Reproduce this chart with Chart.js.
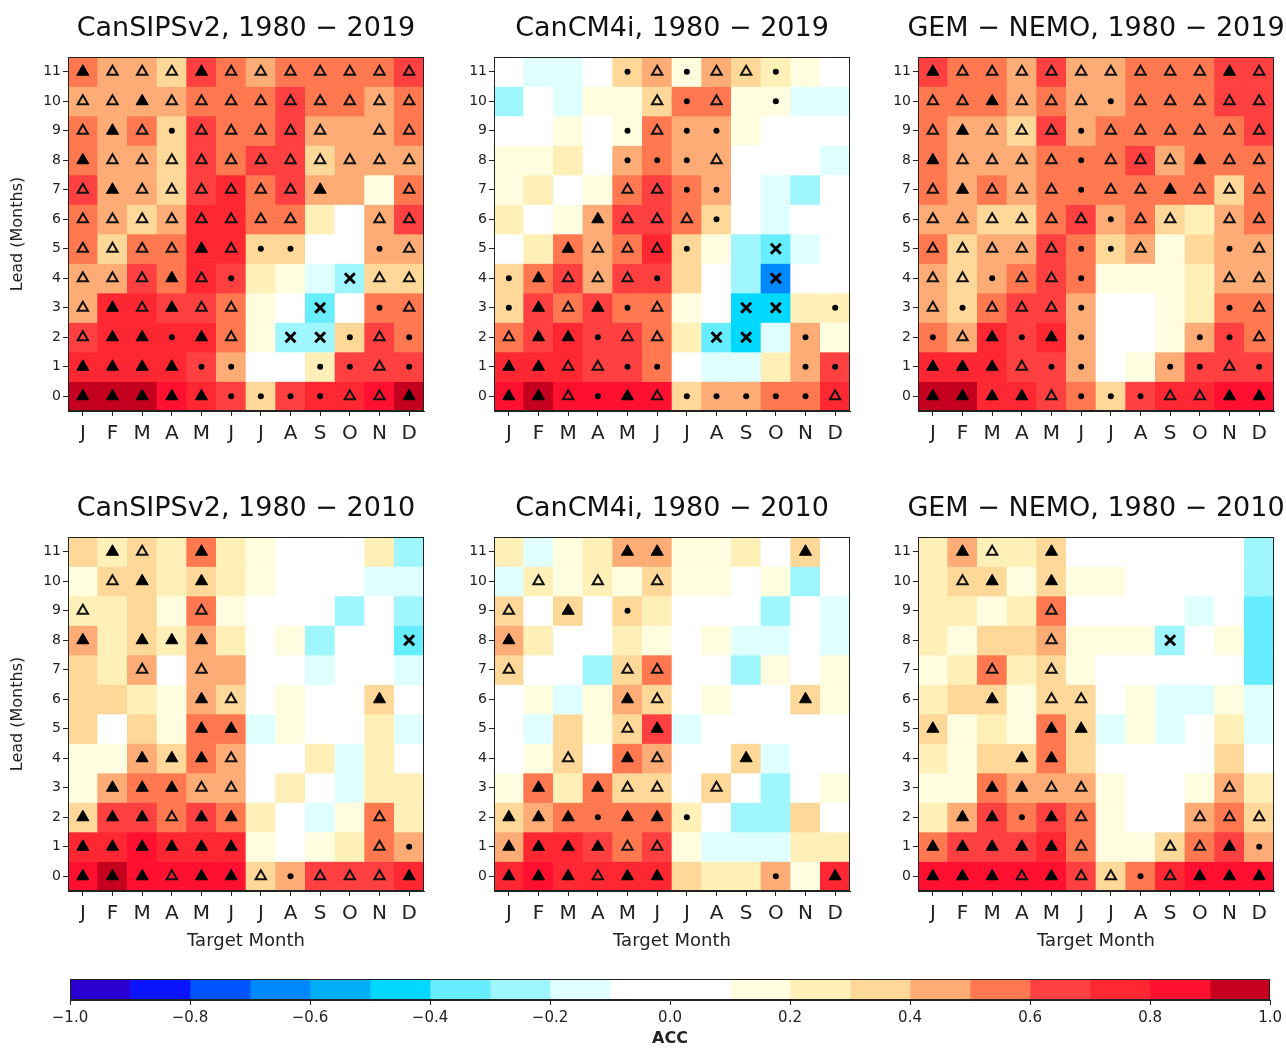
<!DOCTYPE html>
<html>
<head>
<meta charset="utf-8">
<title>ACC by lead and target month</title>
<script src="https://cdn.jsdelivr.net/npm/chart.js@4.4.0/dist/chart.umd.min.js"></script>
<style>
	body { margin: 0; background: #fff; }
	#wrap { position: relative; width: 1286px; height: 1048px; overflow: hidden; }
	#wrap canvas { position: absolute; }
</style>
</head>
<body>
<div id="wrap"></div>
<script>
var MONTHS = ['J', 'F', 'M', 'A', 'M', 'J', 'J', 'A', 'S', 'O', 'N', 'D'];
var MONTH_KEYS = ['Jan', 'Feb', 'Mar', 'Apr', 'May', 'Jun', 'Jul', 'Aug', 'Sep', 'Oct', 'Nov', 'Dec'];
// rows are listed top to bottom: lead 11 ... lead 0
var LEADS = [11, 10, 9, 8, 7, 6, 5, 4, 3, 2, 1, 0];

// colour bins of 0.1 from -1.0 to 1.0
var BIN_EDGES = [-1.0, -0.9, -0.8, -0.7, -0.6, -0.5, -0.4, -0.3, -0.2, -0.1, 0.0, 0.1, 0.2, 0.3, 0.4, 0.5, 0.6, 0.7, 0.8, 0.9, 1.0];
var BIN_COLORS = ['#2a00d2', '#0a14ff', '#0055ff', '#0088ff', '#00aef5', '#00d8ff', '#66eeff', '#a0f6ff', '#e0ffff', '#ffffff',
	'#ffffff', '#fffde0', '#fff0b8', '#fed898', '#fcac74', '#ff7850', '#ff4040', '#ff2832', '#ff1030', '#c4001e'];

var TITLES = ['CanSIPSv2, 1980 \u2212 2019', 'CanCM4i, 1980 \u2212 2019', 'GEM \u2212 NEMO, 1980 \u2212 2019',
	'CanSIPSv2, 1980 \u2212 2010', 'CanCM4i, 1980 \u2212 2010', 'GEM \u2212 NEMO, 1980 \u2212 2010'];

// significance marks: F filled triangle, O open triangle, D dot, X cross, - none
var ACC_SIPS_19 = [
	[0.55, 0.45, 0.45, 0.35, 0.65, 0.55, 0.45, 0.55, 0.55, 0.55, 0.55, 0.65],
	[0.45, 0.45, 0.45, 0.45, 0.55, 0.55, 0.55, 0.65, 0.55, 0.55, 0.45, 0.55],
	[0.55, 0.45, 0.55, 0.35, 0.65, 0.55, 0.55, 0.65, 0.45, 0.45, 0.45, 0.55],
	[0.55, 0.45, 0.45, 0.35, 0.65, 0.55, 0.65, 0.65, 0.35, 0.45, 0.45, 0.45],
	[0.65, 0.45, 0.45, 0.35, 0.65, 0.75, 0.55, 0.65, 0.45, 0.45, 0.15, 0.55],
	[0.55, 0.45, 0.35, 0.45, 0.75, 0.75, 0.55, 0.55, 0.25, 0.05, 0.45, 0.65],
	[0.55, 0.35, 0.55, 0.55, 0.75, 0.75, 0.35, 0.35, 0.05, 0.05, 0.45, 0.45],
	[0.45, 0.45, 0.65, 0.55, 0.75, 0.65, 0.25, 0.15, -0.15, -0.25, 0.35, 0.35],
	[0.45, 0.75, 0.75, 0.65, 0.65, 0.55, 0.15, 0.05, -0.35, 0.05, 0.55, 0.55],
	[0.65, 0.75, 0.75, 0.75, 0.75, 0.55, 0.15, -0.25, -0.25, 0.35, 0.65, 0.55],
	[0.75, 0.75, 0.75, 0.75, 0.65, 0.45, 0.05, 0.05, 0.25, 0.65, 0.65, 0.65],
	[0.95, 0.95, 0.95, 0.85, 0.75, 0.65, 0.35, 0.65, 0.75, 0.75, 0.85, 0.95]
];
var MARK_SIPS_19 = ['FOOOFOOOOOOO', 'OOFOOOOOOOOO', 'OFODOOOOO-OO', 'FOOOOOOOOOOO', 'OFOOOOOOF--O', 'OOOOOOOO--OO',
	'OOOOFODD--DO', 'OOOFOD---XOO', 'OFOFOO--X-DO', 'OFFDFO-XXDOD', 'FFFFDD--DDOD', 'FFFFFDDDDOOF'];

var ACC_CM4_19 = [
	[0.05, -0.15, -0.15, 0.05, 0.35, 0.45, 0.15, 0.45, 0.35, 0.25, 0.15, 0.05],
	[-0.25, 0.05, -0.15, 0.15, 0.15, 0.35, 0.55, 0.55, 0.15, 0.15, -0.15, -0.15],
	[0.05, 0.05, 0.15, 0.05, 0.15, 0.55, 0.45, 0.45, 0.15, 0.05, 0.05, 0.05],
	[0.15, 0.15, 0.25, 0.05, 0.45, 0.55, 0.45, 0.45, 0.05, 0.05, 0.05, -0.15],
	[0.15, 0.25, 0.05, 0.15, 0.55, 0.65, 0.55, 0.45, 0.05, -0.15, -0.25, 0.05],
	[0.25, 0.05, 0.15, 0.45, 0.65, 0.65, 0.55, 0.35, 0.05, -0.15, 0.05, 0.05],
	[0.05, 0.25, 0.55, 0.45, 0.55, 0.75, 0.35, 0.15, -0.25, -0.35, -0.15, 0.05],
	[0.35, 0.55, 0.65, 0.45, 0.65, 0.65, 0.35, 0.05, -0.25, -0.65, 0.05, 0.05],
	[0.35, 0.65, 0.55, 0.65, 0.55, 0.55, 0.15, 0.05, -0.45, -0.45, 0.25, 0.25],
	[0.55, 0.65, 0.75, 0.65, 0.65, 0.55, 0.25, -0.35, -0.45, -0.15, 0.45, 0.15],
	[0.75, 0.75, 0.75, 0.65, 0.65, 0.55, 0.05, -0.15, -0.15, 0.25, 0.45, 0.65],
	[0.85, 0.95, 0.85, 0.85, 0.85, 0.85, 0.35, 0.45, 0.45, 0.55, 0.55, 0.75]
];
var MARK_CM4_19 = ['----DODOOD--', '-----ODO-D--', '----DODD----', '----DDDO----', '----OODD----', '---FOOOD----',
	'--FOOOD--X--', 'DFOOOD---X--', 'DFOFDO--XX-D', 'OFFDOO-XX-D-', 'FFOODD----DD', 'FFODFODDDDDO'];

var ACC_GEM_19 = [
	[0.65, 0.55, 0.55, 0.45, 0.65, 0.45, 0.45, 0.55, 0.55, 0.55, 0.65, 0.65],
	[0.55, 0.55, 0.55, 0.45, 0.55, 0.45, 0.45, 0.55, 0.55, 0.55, 0.65, 0.65],
	[0.55, 0.45, 0.45, 0.35, 0.65, 0.45, 0.55, 0.55, 0.55, 0.55, 0.55, 0.65],
	[0.55, 0.45, 0.45, 0.45, 0.55, 0.55, 0.55, 0.65, 0.45, 0.55, 0.55, 0.55],
	[0.55, 0.45, 0.55, 0.45, 0.55, 0.55, 0.55, 0.55, 0.55, 0.55, 0.35, 0.55],
	[0.45, 0.45, 0.35, 0.35, 0.55, 0.65, 0.45, 0.55, 0.35, 0.25, 0.45, 0.55],
	[0.55, 0.35, 0.45, 0.45, 0.65, 0.55, 0.35, 0.45, 0.15, 0.35, 0.45, 0.45],
	[0.45, 0.35, 0.45, 0.55, 0.65, 0.55, 0.15, 0.15, 0.15, 0.25, 0.45, 0.45],
	[0.45, 0.35, 0.55, 0.65, 0.65, 0.45, 0.05, 0.05, 0.15, 0.25, 0.55, 0.55],
	[0.55, 0.45, 0.75, 0.65, 0.75, 0.45, 0.05, 0.05, 0.15, 0.45, 0.65, 0.55],
	[0.75, 0.75, 0.75, 0.65, 0.65, 0.45, 0.05, 0.15, 0.45, 0.65, 0.65, 0.65],
	[0.95, 0.95, 0.75, 0.75, 0.65, 0.55, 0.35, 0.65, 0.75, 0.75, 0.85, 0.85]
];
var MARK_GEM_19 = ['FOOOOOOOOOFO', 'OOFOOODOOOOO', 'OFOOODOOOOOO', 'FOOOODOOOFOO', 'OFOOODOOFOOO', 'OOOOOODOO-OO',
	'OOOOODDO--DO', 'OODOOD----OO', 'ODOOOD----DO', 'DOFDFD---DDO', 'FFFODD--DDOD', 'FFFFODDDOOFF'];

var ACC_SIPS_10 = [
	[0.35, 0.25, 0.35, 0.25, 0.55, 0.25, 0.15, 0.05, 0.05, 0.05, 0.25, -0.25],
	[0.15, 0.35, 0.35, 0.25, 0.35, 0.25, 0.15, 0.05, 0.05, 0.05, -0.15, -0.15],
	[0.25, 0.25, 0.35, 0.15, 0.55, 0.15, 0.05, 0.05, 0.05, -0.25, 0.05, -0.25],
	[0.45, 0.25, 0.35, 0.25, 0.45, 0.25, 0.05, 0.15, -0.25, 0.05, 0.05, -0.35],
	[0.35, 0.25, 0.45, 0.05, 0.45, 0.45, 0.05, 0.05, -0.15, 0.05, 0.05, -0.15],
	[0.35, 0.35, 0.25, 0.15, 0.45, 0.35, 0.05, 0.15, 0.05, 0.05, 0.35, 0.05],
	[0.35, 0.05, 0.35, 0.15, 0.55, 0.55, -0.15, 0.15, 0.05, 0.05, 0.25, -0.15],
	[0.15, 0.15, 0.45, 0.35, 0.55, 0.45, 0.05, 0.05, 0.25, -0.15, 0.25, 0.05],
	[0.15, 0.45, 0.55, 0.55, 0.45, 0.45, 0.05, 0.25, 0.05, -0.15, 0.25, 0.25],
	[0.35, 0.65, 0.65, 0.55, 0.65, 0.55, 0.25, 0.05, -0.15, 0.15, 0.55, 0.25],
	[0.75, 0.75, 0.85, 0.75, 0.75, 0.75, 0.15, 0.05, 0.15, 0.25, 0.55, 0.45],
	[0.85, 0.95, 0.85, 0.85, 0.85, 0.85, 0.35, 0.45, 0.65, 0.65, 0.65, 0.75]
];
var MARK_SIPS_10 = ['-FO-F-------', '-OF-F-------', 'O---O-------', 'F-FFF------X', '--O-O-------', '----FO----F-',
	'----FF------', '--FFFO------', '-FFFOO------', 'FFFOFF----O-', 'FFFFFF----OD', 'FFFOFFODOOOF'];

var ACC_CM4_10 = [
	[0.25, -0.15, 0.15, 0.25, 0.45, 0.45, 0.15, 0.15, 0.25, 0.05, 0.35, 0.05],
	[-0.15, 0.25, 0.15, 0.25, 0.15, 0.35, 0.15, 0.15, 0.05, 0.15, -0.25, 0.05],
	[0.35, 0.05, 0.35, 0.05, 0.35, 0.25, 0.05, 0.05, 0.05, -0.25, 0.05, -0.15],
	[0.45, 0.25, 0.05, 0.05, 0.25, 0.15, 0.05, 0.15, -0.15, -0.15, 0.05, -0.15],
	[0.35, 0.05, 0.05, -0.25, 0.35, 0.55, 0.05, 0.05, -0.25, 0.15, 0.05, 0.15],
	[0.05, 0.15, -0.15, 0.15, 0.45, 0.35, 0.05, 0.15, 0.05, 0.05, 0.35, 0.15],
	[0.05, -0.15, 0.35, 0.15, 0.35, 0.65, -0.15, 0.05, 0.05, 0.05, 0.05, 0.05],
	[0.05, 0.15, 0.35, 0.05, 0.55, 0.45, 0.05, 0.05, 0.35, -0.15, 0.05, 0.05],
	[0.15, 0.55, 0.25, 0.55, 0.35, 0.35, 0.05, 0.35, 0.05, -0.25, 0.05, 0.15],
	[0.35, 0.45, 0.55, 0.55, 0.55, 0.55, 0.25, 0.05, -0.25, -0.25, 0.35, 0.05],
	[0.45, 0.75, 0.75, 0.65, 0.55, 0.65, 0.15, -0.15, -0.15, -0.15, 0.25, 0.25],
	[0.75, 0.85, 0.75, 0.75, 0.75, 0.75, 0.35, 0.25, 0.25, 0.45, 0.15, 0.75]
];
var MARK_CM4_10 = ['----FF----F-', '-O-O-O------', 'O-F-D-------', 'F-----------', 'O---OO------', '----FO----F-',
	'----OF------', '--O-FO--F---', '-F-FOO-O----', 'FFFDFFD-----', 'FFFFOO------', 'FFFOFF---D-F'];

var ACC_GEM_10 = [
	[0.25, 0.45, 0.25, 0.25, 0.35, 0.05, 0.05, 0.05, 0.05, 0.05, 0.05, -0.25],
	[0.25, 0.35, 0.35, 0.15, 0.35, 0.15, 0.15, 0.05, 0.05, 0.05, 0.05, -0.25],
	[0.25, 0.25, 0.15, 0.25, 0.55, 0.05, 0.05, 0.05, 0.05, -0.15, 0.05, -0.35],
	[0.25, 0.15, 0.35, 0.35, 0.45, 0.15, 0.15, 0.15, -0.25, 0.05, 0.15, -0.35],
	[0.15, 0.25, 0.55, 0.25, 0.35, 0.15, 0.05, 0.05, 0.05, 0.05, 0.05, -0.35],
	[0.25, 0.35, 0.35, 0.15, 0.35, 0.35, 0.05, 0.15, -0.15, -0.15, 0.15, -0.15],
	[0.35, 0.15, 0.25, 0.15, 0.55, 0.35, -0.15, 0.15, -0.15, 0.05, 0.25, -0.15],
	[0.25, 0.15, 0.35, 0.35, 0.55, 0.35, 0.05, 0.05, 0.05, 0.05, 0.35, 0.05],
	[0.15, 0.15, 0.55, 0.45, 0.45, 0.45, 0.15, 0.05, 0.05, 0.15, 0.45, 0.25],
	[0.25, 0.45, 0.65, 0.55, 0.65, 0.55, 0.15, 0.05, 0.05, 0.45, 0.55, 0.35],
	[0.55, 0.65, 0.65, 0.65, 0.75, 0.55, 0.15, 0.15, 0.35, 0.55, 0.65, 0.45],
	[0.85, 0.85, 0.85, 0.85, 0.85, 0.65, 0.35, 0.55, 0.75, 0.85, 0.85, 0.85]
];
var MARK_GEM_10 = ['-FO-F-------', '-OF-F-------', '----O-------', '----O---X---', '--O-O-------', '--F-OO------',
	'F---FF------', '---FF-------', '--FFOO----O-', '-FFDFO---OOO', 'FFFFFO--OOFD', 'FFFOFOODOFFF'];

var PANEL_ACC = [ACC_SIPS_19, ACC_CM4_19, ACC_GEM_19, ACC_SIPS_10, ACC_CM4_10, ACC_GEM_10];
var PANEL_MARK = [MARK_SIPS_19, MARK_CM4_19, MARK_GEM_19, MARK_SIPS_10, MARK_CM4_10, MARK_GEM_10];

Chart.defaults.font.family = 'DejaVu Sans';
Chart.defaults.color = '#222';

function binColor(v) {
	var i = Math.floor((v + 1) / 0.1);
	if (i < 0) i = 0;
	if (i > 19) i = 19;
	return BIN_COLORS[i];
}

var framePlugin = {
	id: 'frame',
	afterDraw: function (chart, args, opts) {
		var ctx = chart.ctx;
		var a = chart.chartArea;
		ctx.save();
		ctx.strokeStyle = '#222';
		ctx.lineWidth = 1;
		ctx.strokeRect(a.left + 0.5, a.top + 0.5, a.right - a.left - 1, a.bottom - a.top - 1);
		if (opts.title) {
			ctx.fillStyle = '#111';
			ctx.font = '27px "DejaVu Sans"';
			ctx.textAlign = 'center';
			ctx.textBaseline = 'middle';
			ctx.fillText(opts.title, (a.left + a.right) / 2, a.top - 28);
		}
		ctx.restore();
	}
};

function addCanvas(left, top, w, h) {
	var c = document.createElement('canvas');
	c.width = w;
	c.height = h;
	c.style.left = left + 'px';
	c.style.top = top + 'px';
	c.style.width = w + 'px';
	c.style.height = h + 'px';
	document.getElementById('wrap').appendChild(c);
	return c;
}

function makePanel(k) {
	var col = k % 3, row = Math.floor(k / 3);
	var acc = PANEL_ACC[k], marks = PANEL_MARK[k];
	var canvasLeft = [0, 426, 850][col];
	var canvasTop = [0, 480][row];
	var canvasH = [470, 485][row];
	var axisH = canvasH - 57 - 354;

	var datasets = [];
	var pts = { F: [], O: [], D: [], X: [] };
	for (var r = 0; r < LEADS.length; r++) {
		var lead = LEADS[r];
		datasets.push({
			type: 'bar',
			data: MONTH_KEYS.map(function () { return [lead - 0.5, lead + 0.5]; }),
			backgroundColor: acc[r].map(binColor),
			borderWidth: 0,
			grouped: false,
			barPercentage: 1,
			categoryPercentage: 1,
			order: 2
		});
		for (var c = 0; c < 12; c++) {
			var m = marks[r].charAt(c);
			if (pts[m]) pts[m].push({ x: MONTH_KEYS[c], y: lead });
		}
	}
	datasets.push({ type: 'scatter', data: pts.F, pointStyle: 'triangle', pointRadius: 7,
		backgroundColor: '#000', borderColor: '#000', borderWidth: 1, order: 0 });
	datasets.push({ type: 'scatter', data: pts.O, pointStyle: 'triangle', pointRadius: 6,
		backgroundColor: 'rgba(0,0,0,0)', borderColor: '#111', borderWidth: 2, order: 0 });
	datasets.push({ type: 'scatter', data: pts.D, pointStyle: 'circle', pointRadius: 3,
		backgroundColor: '#000', borderColor: '#000', borderWidth: 0, order: 0 });
	datasets.push({ type: 'scatter', data: pts.X, pointStyle: 'crossRot', pointRadius: 7,
		backgroundColor: '#000', borderColor: '#000', borderWidth: 3, order: 0 });

	var canvas = addCanvas(canvasLeft, canvasTop, 436, canvasH);
	new Chart(canvas.getContext('2d'), {
		type: 'bar',
		data: { labels: MONTH_KEYS, datasets: datasets },
		options: {
			responsive: false,
			animation: false,
			events: [],
			layout: { padding: { top: 57, right: 12, left: 0, bottom: 0 } },
			plugins: {
				legend: { display: false },
				tooltip: { enabled: false },
				frame: { title: TITLES[k] }
			},
			scales: {
				x: {
					type: 'category',
					offset: true,
					grid: { offset: false, drawOnChartArea: false, tickLength: 5, color: '#222' },
					border: { color: '#222' },
					ticks: {
						font: { size: 20 },
						padding: 6,
						autoSkip: false,
						maxRotation: 0,
						callback: function (v, i) { return MONTHS[i]; }
					},
					title: {
						display: row === 1,
						text: 'Target Month',
						font: { size: 18 },
						padding: { top: 0, bottom: 13 }
					},
					afterFit: function (s) { s.height = axisH; }
				},
				y: {
					type: 'linear',
					min: -0.5,
					max: 11.5,
					grid: { drawOnChartArea: false, tickLength: 5, color: '#222' },
					border: { color: '#222' },
					ticks: { font: { size: 14 }, padding: 2 },
					afterBuildTicks: function (s) {
						s.ticks = LEADS.slice().reverse().map(function (v) { return { value: v }; });
					},
					title: {
						display: col === 0,
						text: 'Lead (Months)',
						font: { size: 16 },
						padding: { top: 8, bottom: 0 }
					},
					afterFit: function (s) { s.width = 68; }
				}
			}
		},
		plugins: [framePlugin]
	});
}

function makeColorbar() {
	var datasets = [];
	for (var i = 0; i < BIN_COLORS.length; i++) {
		datasets.push({
			data: [[BIN_EDGES[i], BIN_EDGES[i + 1]]],
			backgroundColor: BIN_COLORS[i],
			borderWidth: 0,
			grouped: false,
			barPercentage: 1,
			categoryPercentage: 1
		});
	}
	var canvas = addCanvas(0, 965, 1286, 83);
	new Chart(canvas.getContext('2d'), {
		type: 'bar',
		data: { labels: ['ACC'], datasets: datasets },
		options: {
			indexAxis: 'y',
			responsive: false,
			animation: false,
			events: [],
			layout: { padding: { top: 14, left: 70, right: 13, bottom: 0 } },
			plugins: {
				legend: { display: false },
				tooltip: { enabled: false },
				frame: {}
			},
			scales: {
				y: { display: false, offset: true },
				x: {
					type: 'linear',
					min: -1,
					max: 1,
					grid: { drawOnChartArea: false, tickLength: 5, color: '#222' },
					border: { color: '#222' },
					ticks: {
						stepSize: 0.2,
						font: { size: 15 },
						padding: 4,
						maxRotation: 0,
						callback: function (v) { return (v < 0 ? '\u2212' : '') + Math.abs(v).toFixed(1); }
					},
					title: {
						display: true,
						text: 'ACC',
						font: { size: 16, weight: 'bold' },
						padding: { top: 0, bottom: 0 }
					},
					afterFit: function (s) { s.height = 48; }
				}
			}
		},
		plugins: [framePlugin]
	});
}

for (var k = 0; k < 6; k++) makePanel(k);
makeColorbar();
</script>
</body>
</html>
